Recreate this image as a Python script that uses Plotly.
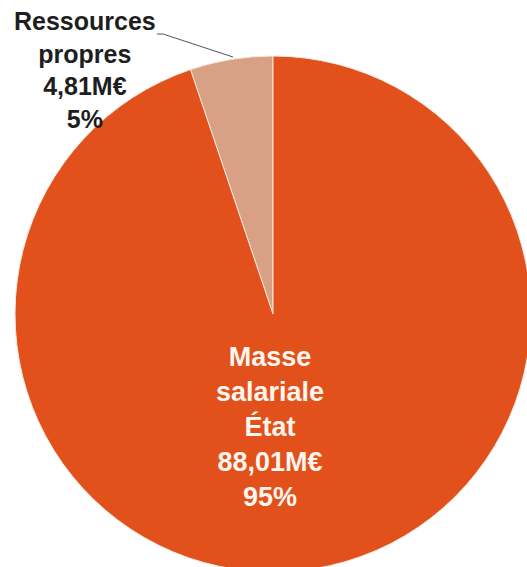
import plotly.graph_objects as go

# Data
labels = ["Ressources propres", "Masse salariale État"]
values = [4.81, 88.01]  # M€
colors = ["#D8A084", "#E2501C"]

W, H = 532, 572
total = sum(values)

def fmt_label(lbl, v):
    pct = round(100 * v / total)
    amount = f"{v:.2f}".replace(".", ",")
    return "<br>".join(lbl.split(" ")) + f"<br>{amount}M€<br>{pct}%"

# first slice ends at 12 o'clock (placed just left of the top)
rot = -360 * values[0] / total

fig = go.Figure(go.Pie(
    labels=labels,
    values=values,
    sort=False,
    direction="clockwise",
    rotation=rot,
    marker=dict(colors=colors, line=dict(color="#F6E8DE", width=1)),
    textinfo="none",
    hoverinfo="none",
    showlegend=False,
    domain=dict(x=[14 / W, 1], y=[0, 1 - 56 / H]),
))

def px(x):
    return x / W

def py(y):
    return 1 - y / H

font_family = "Liberation Sans, Arial, sans-serif"

fig.add_annotation(
    x=px(85), y=py(70), xref="paper", yref="paper",
    text="<b>" + fmt_label(labels[0], values[0]) + "</b>",
    showarrow=False, xanchor="center", yanchor="middle",
    font=dict(family=font_family, size=25, color="#1E1E1E"),
)
fig.add_annotation(
    x=px(270), y=py(427), xref="paper", yref="paper",
    text="<b>" + fmt_label(labels[1], values[1]) + "</b>",
    showarrow=False, xanchor="center", yanchor="middle",
    font=dict(family=font_family, size=27, color="#FFF6EE"),
)

# leader line for the outside label
fig.add_shape(type="line", xref="paper", yref="paper",
              x0=px(157), y0=py(34), x1=px(163), y1=py(34),
              line=dict(color="#555555", width=1))
fig.add_shape(type="line", xref="paper", yref="paper",
              x0=px(163), y0=py(34), x1=px(233), y1=py(57),
              line=dict(color="#555555", width=1))

fig.update_layout(
    width=W, height=H,
    margin=dict(l=0, r=0, t=0, b=0),
    paper_bgcolor="white",
    plot_bgcolor="white",
)

fig.write_html("out.html", config={"displayModeBar": False},
               post_script="document.body.style.margin='0';document.body.style.overflow='hidden';document.documentElement.style.overflow='hidden';")
